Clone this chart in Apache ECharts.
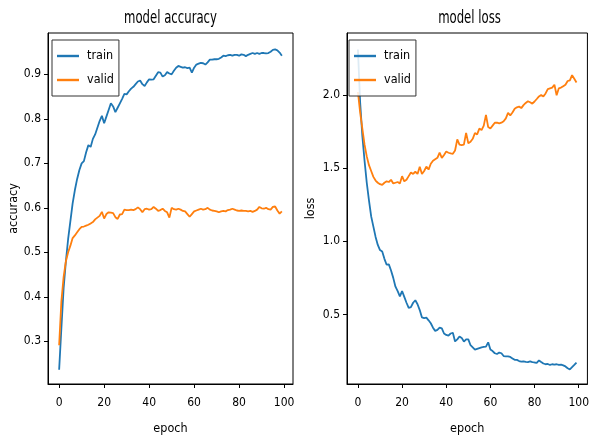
<!DOCTYPE html>
<html>
<head>
<meta charset="utf-8">
<script src="https://cdn.jsdelivr.net/npm/echarts@6/dist/echarts.min.js"></script>
<style>html,body{margin:0;padding:0;background:#fff;}#c{width:592px;height:440px;}</style>
</head>
<body>
<div id="c"></div>
<script>
const epochTicks = [0, 20, 40, 60, 80, 100];
const accTicks = [0.3, 0.4, 0.5, 0.6, 0.7, 0.8, 0.9];
const lossTicks = [0.5, 1.0, 1.5, 2.0];

const trainAcc = [0.236,0.33,0.42,0.48,0.53,0.57,0.61,0.64,0.665,0.685,0.70,0.705,0.725,0.741,0.737,0.755,0.765,0.78,0.795,0.807,
0.79,0.805,0.82,0.835,0.828,0.815,0.825,0.835,0.845,0.856,0.855,0.862,0.868,0.872,0.878,0.884,0.886,0.878,0.874,0.882,
0.889,0.888,0.889,0.897,0.905,0.904,0.895,0.898,0.905,0.902,0.90,0.908,0.915,0.919,0.917,0.915,0.916,0.914,0.915,0.904,
0.915,0.922,0.924,0.926,0.925,0.922,0.927,0.933,0.933,0.934,0.934,0.935,0.938,0.942,0.941,0.943,0.944,0.942,0.944,0.944,
0.942,0.945,0.944,0.941,0.944,0.946,0.948,0.946,0.948,0.946,0.948,0.948,0.947,0.948,0.951,0.955,0.956,0.954,0.949,0.942];

const validAcc = [0.291,0.39,0.445,0.48,0.50,0.515,0.532,0.538,0.545,0.552,0.557,0.558,0.560,0.562,0.565,0.568,0.574,0.578,0.582,0.591,
0.576,0.586,0.590,0.589,0.588,0.579,0.575,0.585,0.586,0.596,0.595,0.595,0.596,0.595,0.597,0.601,0.597,0.590,0.597,0.598,
0.596,0.597,0.602,0.598,0.593,0.595,0.598,0.593,0.590,0.578,0.600,0.597,0.596,0.598,0.596,0.593,0.592,0.586,0.580,0.586,
0.592,0.594,0.596,0.598,0.596,0.597,0.600,0.596,0.594,0.593,0.592,0.590,0.592,0.593,0.592,0.595,0.596,0.598,0.596,0.594,
0.593,0.594,0.593,0.593,0.592,0.593,0.591,0.593,0.596,0.602,0.599,0.598,0.600,0.597,0.596,0.602,0.603,0.594,0.587,0.592];

const trainLoss = [2.31,1.95,1.72,1.55,1.40,1.28,1.17,1.10,1.03,0.975,0.94,0.93,0.88,0.84,0.842,0.80,0.75,0.69,0.66,0.624,
0.66,0.62,0.58,0.545,0.55,0.58,0.597,0.57,0.53,0.48,0.475,0.478,0.46,0.44,0.41,0.388,0.395,0.41,0.405,0.37,
0.36,0.355,0.37,0.375,0.316,0.33,0.35,0.34,0.315,0.33,0.33,0.29,0.275,0.26,0.265,0.27,0.275,0.278,0.28,0.31,
0.26,0.25,0.235,0.23,0.24,0.235,0.216,0.214,0.214,0.21,0.20,0.19,0.19,0.182,0.178,0.18,0.176,0.175,0.18,0.175,
0.172,0.17,0.186,0.175,0.165,0.16,0.162,0.155,0.16,0.158,0.16,0.155,0.157,0.152,0.145,0.133,0.125,0.14,0.155,0.171];

const validLoss = [2.02,1.88,1.77,1.66,1.58,1.52,1.48,1.44,1.415,1.40,1.39,1.385,1.40,1.41,1.405,1.42,1.395,1.40,1.405,1.395,
1.445,1.41,1.42,1.445,1.47,1.46,1.475,1.46,1.51,1.46,1.48,1.51,1.49,1.53,1.55,1.56,1.57,1.606,1.57,1.59,
1.613,1.605,1.60,1.598,1.62,1.696,1.66,1.657,1.66,1.741,1.67,1.68,1.70,1.74,1.73,1.77,1.76,1.79,1.864,1.78,
1.77,1.79,1.81,1.81,1.805,1.81,1.82,1.84,1.877,1.86,1.88,1.905,1.915,1.92,1.91,1.93,1.945,1.957,1.95,1.94,
1.955,1.972,1.99,2.0,1.99,2.01,2.04,2.045,2.05,2.07,1.998,2.045,2.05,2.06,2.07,2.095,2.10,2.135,2.11,2.085];

const FONT = '"DejaVu Sans Condensed", "DejaVu Sans", sans-serif';
const C_TRAIN = '#1f77b4', C_VALID = '#ff7f0e';
const pairs = arr => arr.map((v, i) => [i, v]);

const chart = echarts.init(document.getElementById('c'), null, {renderer: 'canvas'});

function xAxisDef(gi) {
  return {
    type: 'value', gridIndex: gi, min: -4.95, max: 103.95,
    name: 'epoch', nameLocation: 'middle', nameGap: 38,
    nameTextStyle: {fontFamily: FONT, fontSize: 12.5, color: '#000'},
    axisLine: {show: true, onZero: false, lineStyle: {color: '#000', width: 1}},
    axisTick: {show: true, length: 4, inside: false, customValues: epochTicks, lineStyle: {color: '#000'}},
    axisLabel: {show: true, customValues: epochTicks, margin: 13, fontFamily: FONT, fontSize: 12, color: '#000'},
    splitLine: {show: false}
  };
}
function yAxisDef(gi, name, ticks, min, max, gap) {
  return {
    type: 'value', gridIndex: gi, min: min, max: max,
    name: name, nameLocation: 'middle', nameGap: gap, nameRotate: 90,
    nameTextStyle: {fontFamily: FONT, fontSize: 12.5, color: '#000'},
    axisLine: {show: true, onZero: false, lineStyle: {color: '#000', width: 1}},
    axisTick: {show: true, length: 4, inside: false, customValues: ticks, lineStyle: {color: '#000'}},
    axisLabel: {show: true, customValues: ticks, margin: 7, fontFamily: FONT, fontSize: 12, color: '#000',
      formatter: v => Number(v).toFixed(1)},
    splitLine: {show: false}
  };
}
function legendDef(left) {
  return {
    left: left, top: 40, orient: 'vertical',
    data: ['train', 'valid'],
    icon: 'rect', itemWidth: 22, itemHeight: 2.4, itemGap: 10,
    padding: [9, 5, 9, 5],
    backgroundColor: 'rgba(255,255,255,0.85)',
    borderColor: '#333', borderWidth: 1, borderRadius: 0,
    textStyle: {fontFamily: FONT, fontSize: 12.5, color: '#000', lineHeight: 14, padding: [0, 0, 0, 3]},
    selectedMode: false
  };
}
function lineSeries(name, data, color, xi, yi) {
  return {
    type: 'line', name: name, data: pairs(data), xAxisIndex: xi, yAxisIndex: yi,
    showSymbol: false, symbol: 'none', smooth: false,
    lineStyle: {color: color, width: 1.8}, itemStyle: {color: color},
    animation: false
  };
}

chart.setOption({
  animation: false,
  backgroundColor: '#fff',
  textStyle: {fontFamily: FONT},
  graphic: [
    {type: 'text', x: 170.5, y: 18, scaleY: 1.35, style: {text: 'model accuracy', font: '13px ' + FONT, fill: '#000', textAlign: 'center', textVerticalAlign: 'middle'}},
    {type: 'text', x: 469.5, y: 18, scaleY: 1.35, style: {text: 'model loss', font: '13px ' + FONT, fill: '#000', textAlign: 'center', textVerticalAlign: 'middle'}}
  ],
  grid: [
    {left: 48, top: 33, width: 245, height: 356, show: true, borderColor: '#000', borderWidth: 1, backgroundColor: 'transparent', containLabel: false},
    {left: 347, top: 33, width: 246, height: 356, show: true, borderColor: '#000', borderWidth: 1, backgroundColor: 'transparent', containLabel: false}
  ],
  xAxis: [xAxisDef(0), xAxisDef(1)],
  yAxis: [
    yAxisDef(0, 'accuracy', accTicks, 0.204, 0.993, 27),
    yAxisDef(1, 'loss', lossTicks, 0.025, 2.423, 30)
  ],
  legend: [legendDef(52), legendDef(349)],
  series: [
    lineSeries('train', trainAcc, C_TRAIN, 0, 0),
    lineSeries('valid', validAcc, C_VALID, 0, 0),
    lineSeries('train', trainLoss, C_TRAIN, 1, 1),
    lineSeries('valid', validLoss, C_VALID, 1, 1)
  ]
});
</script>
</body>
</html>
